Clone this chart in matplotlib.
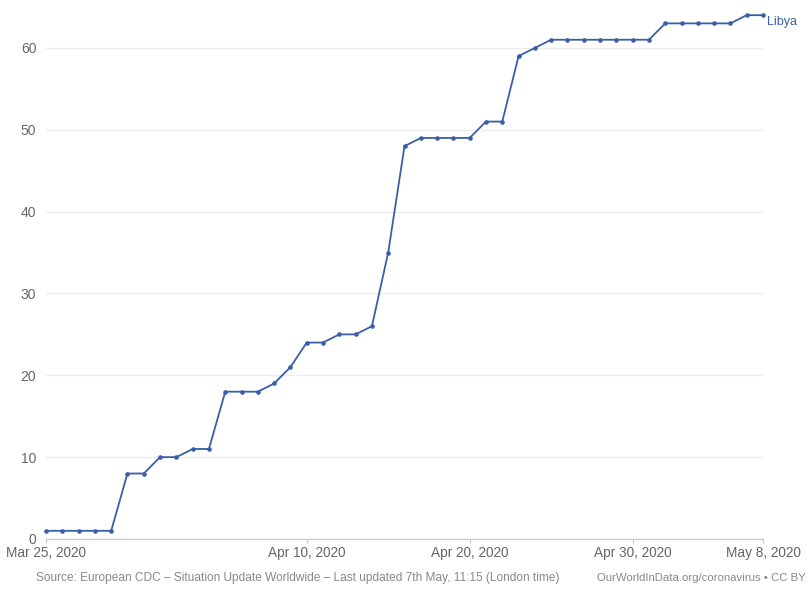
import matplotlib
matplotlib.use("Agg")
import matplotlib.pyplot as plt
import matplotlib.transforms as mtrans
import pandas as pd

# confirmed cases, Libya, one value per day from Mar 25 to May 8, 2020
dates = pd.date_range("2020-03-25", "2020-05-08", freq="D")
cases = [1, 1, 1, 1, 1, 8, 8, 10, 10, 11,
         11, 18, 18, 18, 19, 21, 24, 24, 25, 25,
         26, 35, 48, 49, 49, 49, 49, 51, 51, 59,
         60, 61, 61, 61, 61, 61, 61, 61, 63, 63,
         63, 63, 63, 64, 64]
country = "Libya"
tick_dates = ["2020-03-25", "2020-04-10", "2020-04-20", "2020-04-30", "2020-05-08"]
tick_labels = ["Mar 25, 2020", "Apr 10, 2020", "Apr 20, 2020", "Apr 30, 2020", "May 8, 2020"]
y_ticks = [0, 10, 20, 30, 40, 50, 60]

plt.rcParams["font.family"] = ["Liberation Sans", "DejaVu Sans"]

blue = "#3a5ea8"
grey = "#666666"

fig = plt.figure(figsize=(8.09, 5.95), dpi=100)
ax = fig.add_axes([46 / 809, (595 - 539) / 595, (763 - 46) / 809, (539 - 7) / 595])

ax.plot(dates, cases, color=blue, lw=1.3, marker="o", ms=2.3, zorder=3, clip_on=False)

ax.set_xlim(dates[0], dates[-1])
ax.set_ylim(0, 65)

ax.set_yticks(y_ticks)
ax.set_yticklabels([str(v) for v in y_ticks])
ax.set_xticks(pd.to_datetime(tick_dates))
ax.set_xticklabels(tick_labels)

ax.grid(axis="y", color="#ececec", lw=0.9)
ax.set_axisbelow(True)
for s in ["top", "right", "left"]:
    ax.spines[s].set_visible(False)
ax.spines["bottom"].set_color("#c8c8c8")
ax.spines["bottom"].set_linewidth(0.9)

ax.tick_params(axis="y", length=0, pad=7, labelsize=10, labelcolor=grey)
ax.tick_params(axis="x", length=3, color="#c8c8c8", pad=2, labelsize=9.8, labelcolor=grey)

ax.text(dates[-1], cases[-1], country, color=blue, fontsize=9, va="top", ha="left",
        transform=ax.transData + mtrans.ScaledTranslation(0.04, -0.01, fig.dpi_scale_trans))

fig.text(36 / 809, 17 / 595, "Source: European CDC – Situation Update Worldwide – Last updated 7th May, 11:15 (London time)",
         fontsize=8.6, color="#888888", ha="left", va="center")
fig.text(806 / 809, 17 / 595, "OurWorldInData.org/coronavirus • CC BY",
         fontsize=8.2, color="#888888", ha="right", va="center")

fig.savefig("out.png", dpi=100)
